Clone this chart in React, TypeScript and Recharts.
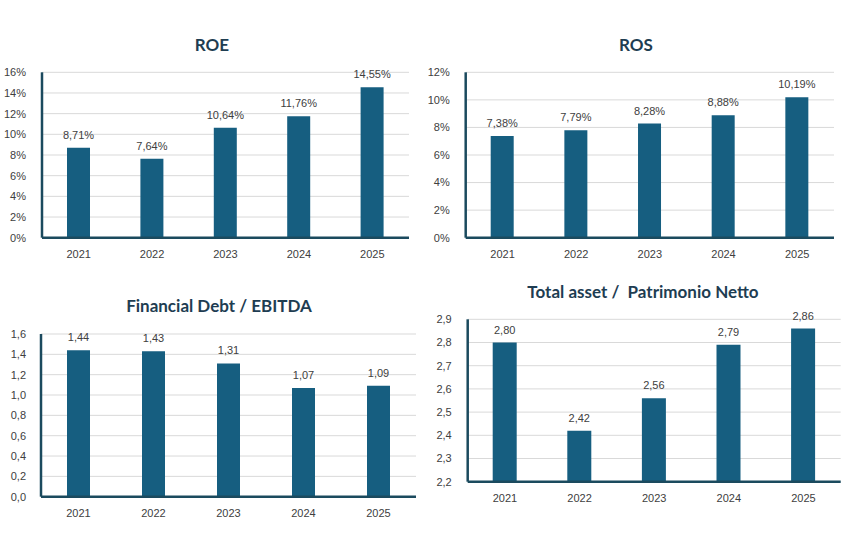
import React from "react";
import { BarChart, Bar, XAxis, YAxis, CartesianGrid, LabelList } from "recharts";

const years = ["2021", "2022", "2023", "2024", "2025"];
const roeValues = [8.71, 7.64, 10.64, 11.76, 14.55];
const rosValues = [7.38, 7.79, 8.28, 8.88, 10.19];
const debtValues = [1.44, 1.43, 1.31, 1.07, 1.09];
const assetValues = [2.8, 2.42, 2.56, 2.79, 2.86];

const roeTicks = [0, 2, 4, 6, 8, 10, 12, 14, 16];
const rosTicks = [0, 2, 4, 6, 8, 10, 12];
const debtTicks = [0, 0.2, 0.4, 0.6, 0.8, 1.0, 1.2, 1.4, 1.6];
const assetTicks = [2.2, 2.3, 2.4, 2.5, 2.6, 2.7, 2.8, 2.9];

const BAR = "#165E80";
const AXIS = "#1B4A5E";
const GRID = "#D9D9D9";
const TEXT = "#404040";
const TITLE = "#1E3D52";
const FONT = "Liberation Sans, Arial, sans-serif";

const build = (vals: number[]) => years.map((y, i) => ({ year: y, value: vals[i] }));

const pct = (v: number) => v.toFixed(0) + "%";
const pct2 = (v: number) => v.toFixed(2).replace(".", ",") + "%";
const dec1 = (v: number) => v.toFixed(1).replace(".", ",");
const dec2 = (v: number) => v.toFixed(2).replace(".", ",");

type Box = { ox: number; oy: number; w: number; h: number; L: number; T: number; R: number; B: number };

function Mini(props: {
  box: Box;
  data: { year: string; value: number }[];
  ticks: number[];
  domain: [number, number];
  tickFmt: (v: number) => string;
  labelFmt: (v: number) => string;
  barSize: number;
  tickMargin: number;
}) {
  const { box, data, ticks, domain, tickFmt, labelFmt, barSize, tickMargin } = props;
  const margin = { top: box.T - box.oy, right: box.ox + box.w - box.R, left: 0, bottom: 0 };
  return (
    <div style={{ position: "absolute", left: box.ox, top: box.oy }}>
      <BarChart width={box.w} height={box.h} data={data} margin={margin}>
        <CartesianGrid vertical={false} stroke={GRID} strokeWidth={1} />
        <XAxis
          dataKey="year"
          height={box.oy + box.h - box.B}
          axisLine={{ stroke: AXIS, strokeWidth: 2.5 }}
          tickLine={false}
          tick={{ fill: TEXT, fontSize: 11, fontFamily: FONT }}
          tickMargin={6}
        />
        <YAxis
          width={box.L - box.ox}
          domain={domain}
          ticks={ticks}
          interval={0}
          allowDataOverflow
          axisLine={{ stroke: AXIS, strokeWidth: 2.5 }}
          tickLine={false}
          tickFormatter={tickFmt}
          tick={{ fill: TEXT, fontSize: 11, fontFamily: FONT }}
          tickMargin={tickMargin}
        />
        <Bar dataKey="value" fill={BAR} barSize={barSize} isAnimationActive={false}>
          <LabelList
            dataKey="value"
            position="top"
            offset={9}
            formatter={(v: any) => labelFmt(Number(v))}
            style={{ fill: TEXT, fontSize: 11, fontFamily: FONT }}
          />
        </Bar>
      </BarChart>
    </div>
  );
}

function Title(props: { text: string; cx: number; cy: number }) {
  return (
    <div
      style={{
        position: "absolute",
        left: props.cx - 200,
        top: props.cy - 12,
        width: 400,
        height: 24,
        lineHeight: "24px",
        textAlign: "center",
        fontFamily: "Lato, 'Noto Sans', sans-serif",
        fontWeight: 700,
        fontSize: 17,
        color: TITLE,
        whiteSpace: "pre",
      }}
    >
      {props.text}
    </div>
  );
}

export default function App() {
  return (
    <div style={{ position: "absolute", left: 0, top: 0, width: 857, height: 541, background: "#fff", overflow: "hidden" }}>
      <Title text="ROE" cx={212} cy={45} />
      <Title text="ROS" cx={636} cy={45} />
      <Title text="Financial Debt / EBITDA" cx={219} cy={306} />
      <Title text="Total asset /  Patrimonio Netto" cx={643} cy={292} />
      <Mini
        box={{ ox: 0, oy: 60, w: 420, h: 210, L: 42, T: 72.3, R: 409, B: 237.7 }}
        data={build(roeValues)}
        ticks={roeTicks}
        domain={[0, 16]}
        tickFmt={pct}
        labelFmt={pct2}
        barSize={23}
        tickMargin={10}
      />
      <Mini
        box={{ ox: 420, oy: 60, w: 437, h: 210, L: 465.7, T: 72.3, R: 834, B: 237.7 }}
        data={build(rosValues)}
        ticks={rosTicks}
        domain={[0, 12]}
        tickFmt={pct}
        labelFmt={pct2}
        barSize={23}
        tickMargin={10}
      />
      <Mini
        box={{ ox: 0, oy: 320, w: 420, h: 215, L: 41, T: 334, R: 416, B: 496.7 }}
        data={build(debtValues)}
        ticks={debtTicks}
        domain={[0, 1.6]}
        tickFmt={dec1}
        labelFmt={dec2}
        barSize={23}
        tickMargin={9}
      />
      <Mini
        box={{ ox: 420, oy: 305, w: 437, h: 215, L: 467.7, T: 319.3, R: 840.7, B: 481.7 }}
        data={build(assetValues)}
        ticks={assetTicks}
        domain={[2.2, 2.9]}
        tickFmt={dec1}
        labelFmt={dec2}
        barSize={24}
        tickMargin={10}
      />
    </div>
  );
}
